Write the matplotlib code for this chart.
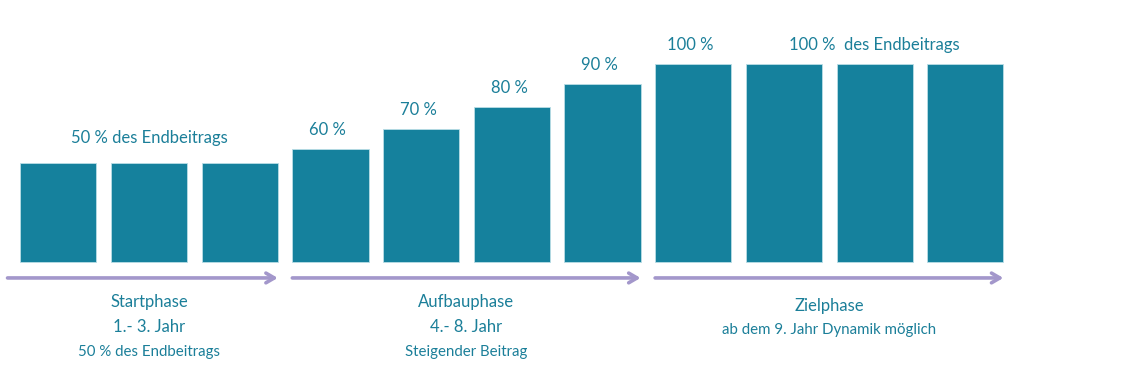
import matplotlib.pyplot as plt

# Werte (Balkenhöhe relativ zum Endbeitrag)
jahre = list(range(1, 12))
hoehen = [50, 50, 50, 57, 67, 78, 90, 100, 100, 100, 100]
prozent_labels = ['', '', '', '60 %', '70 %', '80 %', '90 %', '100 %', '', '', '']

phasen = ['Startphase', 'Aufbauphase', 'Zielphase']
phasen_zeile2 = ['1.- 3. Jahr', '4.- 8. Jahr', '']
phasen_zeile3 = ['50 % des Endbeitrags', 'Steigender Beitrag', 'ab dem 9. Jahr Dynamik möglich']
phasen_bereich = [(0, 2), (3, 6), (7, 10)]

BAR = '#15819d'
TXT = '#1b7f99'
PFEIL = '#a397cb'

plt.rcParams['font.family'] = ['Lato', 'DejaVu Sans']

fig = plt.figure(figsize=(11.36, 3.7), dpi=100)
ax = fig.add_axes([0, 0, 1, 1])

x = [j - 1 for j in jahre]
breite = 0.84
ax.bar(x, hoehen, width=breite, color=BAR, edgecolor='#b9dde6', linewidth=0.6)

ax.set_xlim(-0.643, 11.882)
ax.set_ylim(-54.4, 132.1)
ax.axis('off')

gross = 12
klein = 10.8

# Prozentwerte über den Balken
for xi, h, lab in zip(x, hoehen, prozent_labels):
    if lab:
        ax.annotate(lab, (xi - 0.03, h), xytext=(0, 19), textcoords='offset pixels',
                    ha='center', va='center', fontsize=gross, color=TXT)

ax.annotate('50 % des Endbeitrags', (1, hoehen[1]), xytext=(0, 25), textcoords='offset pixels',
            ha='center', va='center', fontsize=gross, color=TXT)
ax.annotate('100 %  des Endbeitrags', (9, hoehen[9]), xytext=(0, 19), textcoords='offset pixels',
            ha='center', va='center', fontsize=gross, color=TXT)

# Pfeile und Phasentexte
pfeil_y = -8
for i, (a, b) in enumerate(phasen_bereich):
    start = a - breite / 2 if i > 0 else -0.56
    ende = b + breite / 2
    ax.annotate('', xy=(ende, pfeil_y), xytext=(start, pfeil_y),
                arrowprops=dict(arrowstyle='->,head_width=0.35,head_length=0.6',
                                color=PFEIL, lw=2.6, shrinkA=0, shrinkB=0))
    mitte = (a + b) / 2
    if phasen_zeile2[i]:
        zeilen = [(phasen[i], -40, gross), (phasen_zeile2[i], -65, gross), (phasen_zeile3[i], -90, klein)]
    else:
        zeilen = [(phasen[i], -44, gross), (phasen_zeile3[i], -68, klein)]
    for txt, off, fs in zeilen:
        ax.annotate(txt, (mitte, 0), xytext=(0, off), textcoords='offset pixels',
                    ha='center', va='center', fontsize=fs, color=TXT)

fig.savefig('out.png', dpi=100)
